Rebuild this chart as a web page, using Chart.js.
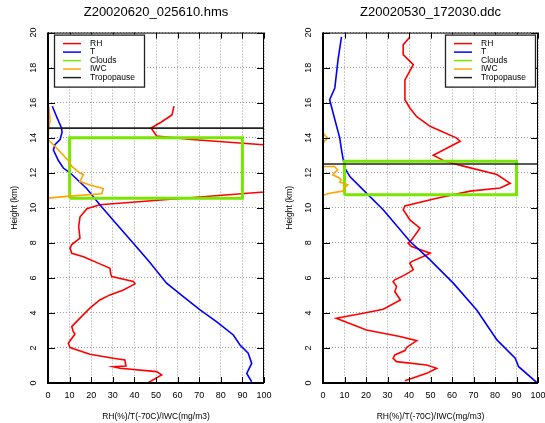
<!DOCTYPE html>
<html>
<head>
<meta charset="utf-8">
<script src="https://cdn.jsdelivr.net/npm/chart.js@4.4.0/dist/chart.umd.min.js"></script>
<style>
  body { margin: 0; background: #fff; width: 545px; height: 423px; overflow: hidden; position: relative; }
  canvas { position: absolute; top: 0; }
</style>
</head>
<body>
<canvas id="left" width="272" height="423" style="left:0"></canvas>
<canvas id="right" width="270" height="423" style="left:275px"></canvas>
<script>
// axis settings
const xTicks = [0, 10, 20, 30, 40, 50, 60, 70, 80, 90, 100];
const yTicks = [0, 2, 4, 6, 8, 10, 12, 14, 16, 18, 20];
const seriesNames = ['RH', 'T', 'Clouds', 'IWC', 'Tropopause'];

// ---- left sounding: Z20020620_025610.hms ----
const rhLeft   = [58.3, 57.4, 52.5, 47.7, 50.3, 66.5, 99.7, 112, 118, 112, 100, 24, 18, 14.8, 14.2, 14.8, 11, 10.2, 11, 16.4, 24, 28.7, 29, 29.5, 39.5, 40.3, 34.9, 28.7, 24, 19.4, 14.8, 11, 11.7, 12.5, 9.4, 10.2, 19.4, 30.2, 35.6, 36.1, 30.2, 33.3, 50.3, 52.6, 46.4];
const rhLeftKm = [15.8, 15.3, 14.9, 14.55, 14.1, 13.9, 13.6, 13.45, 12.5, 11.2, 10.9, 10.17, 9.95, 9.47, 8.93, 8.27, 7.9, 7.7, 7.4, 7.2, 6.8, 6.55, 6.25, 6.07, 5.8, 5.66, 5.31, 5.03, 4.74, 4.27, 3.7, 3.22, 2.93, 2.8, 2.27, 2.02, 1.64, 1.41, 1.31, 0.97, 0.93, 0.84, 0.65, 0.46, 0.02];
const tLeft    = [2.0, 4, 6.3, 6.5, 5.6, 3.2, 2.5, 4.8, 7.1, 10.2, 17.9, 24, 31.5, 39.5, 46.8, 54.9, 62.5, 70.4, 78, 85.8, 88.9, 92.7, 94.3, 92, 94.3];
const tLeftKm  = [15.8, 15.2, 14.55, 14.3, 13.9, 13.6, 13.3, 12.7, 12.27, 12.0, 11.1, 10.17, 9.1, 7.98, 6.93, 5.7, 4.95, 4.17, 3.5, 2.74, 2.17, 1.7, 1.12, 0.55, 0.07];
const iwcLeft   = [0.3, 1, 0.3, 0, 0, 2.5, 6.3, 9.4, 11, 14.8, 16.4, 14.8, 19.4, 25.6, 24.9, 8.6, 0, 0];
const iwcLeftKm = [15.8, 15.0, 14.5, 14.2, 13.9, 13.6, 13.1, 12.7, 12.36, 11.98, 11.9, 11.5, 11.3, 11.1, 10.8, 10.65, 10.55, 0];
const cloudLeft = [10.55, 14.0];   // base, top (km)
const tropoLeft = 14.55;

// ---- right sounding: Z20020530_172030.ddc ----
const rhRight   = [40.4, 37.3, 37.3, 42, 41.2, 38.1, 38.1, 40.4, 43.6, 49.8, 62.2, 63.8, 51.3, 56.8, 65.3, 80.9, 87.1, 82.4, 68.4, 52.9, 38.1, 37.3, 38.9, 40.4, 45.1, 41.2, 39.6, 41.2, 49.8, 48.2, 41.2, 40.4, 42, 38.1, 33.4, 32.6, 34.2, 33.4, 36, 28, 18.7, 6.2, 20.2, 35.8, 43.6, 38.9, 38.1, 33.4, 32.6, 34.2, 48.2, 52.9, 48.2, 38.1];
const rhRightKm = [19.75, 19.3, 18.74, 18.17, 17.98, 17.3, 16.17, 15.7, 15.2, 14.65, 13.98, 13.8, 13.0, 12.65, 12.38, 11.9, 11.4, 11.13, 10.95, 10.55, 10.11, 9.89, 9.6, 9.31, 8.84, 8.17, 7.98, 7.79, 7.41, 7.31, 6.93, 6.84, 6.46, 6.17, 5.89, 5.79, 5.5, 5.22, 4.74, 4.21, 3.98, 3.7, 3.03, 2.65, 2.42, 2.03, 1.85, 1.6, 1.41, 1.22, 1.03, 0.84, 0.55, 0.13];
const tRight    = [8.6, 7, 5.5, 3.1, 4.7, 7.8, 8.6, 10.1, 12.5, 20.2, 28, 40.4, 49.8, 60.6, 71.5, 80.9, 89.4, 91, 99.5];
const tRightKm  = [19.75, 18.46, 16.84, 16.17, 15.41, 13.98, 13.31, 12.27, 11.79, 10.84, 9.89, 8.09, 7.03, 5.7, 4.17, 2.46, 1.41, 0.93, 0.02];
const iwcRight   = [0, 0, 0.6, 2.2, 0.6, 0, 0, 0.6, 5.3, 6.8, 4.5, 7.6, 8.4, 7.8, 11.5, 10, 9.2, 3.7, 0.6, 0, 0];
const iwcRightKm = [19.75, 14.3, 14.17, 13.98, 13.79, 13.65, 12.4, 12.36, 12.36, 12.17, 11.89, 11.7, 11.6, 11.47, 11.31, 11.13, 10.95, 10.84, 10.74, 10.7, 0];
const cloudRight = [10.74, 12.65];
const tropoRight = 12.5;

const cloudX = [10, 90];

Chart.defaults.font.family = '"Liberation Sans", Arial, sans-serif';
Chart.defaults.color = '#000';

function pts(xs, hs) {
    return xs.map((v, i) => ({ x: v, y: hs[i] }));
}

// gnuplot style box: inward tick marks, frame, legend box inside plot
const gnuFrame = {
    id: 'gnuFrame',
    afterDatasetsDraw(chart, args, opts) {
        const { ctx, chartArea: a, scales: { x, y } } = chart;
        ctx.save();
        ctx.strokeStyle = '#000';
        ctx.lineWidth = 1;
        ctx.beginPath();
        x.ticks.forEach(t => {
            const px = Math.round(x.getPixelForValue(t.value)) + 0.5;
            ctx.moveTo(px, a.bottom); ctx.lineTo(px, a.bottom - 6);
            ctx.moveTo(px, a.top); ctx.lineTo(px, a.top + 6);
        });
        y.ticks.forEach(t => {
            const py = Math.round(y.getPixelForValue(t.value)) + 0.5;
            ctx.moveTo(a.left, py); ctx.lineTo(a.left + 7, py);
            ctx.moveTo(a.right, py); ctx.lineTo(a.right - 7, py);
        });
        ctx.stroke();
        ctx.strokeRect(a.left + 0.5, a.top + 0.5, a.width - 1, a.height - 1);
        ctx.lineWidth = 2;
        ctx.beginPath();
        ctx.moveTo(a.left, a.top); ctx.lineTo(a.left, a.bottom);
        ctx.lineTo(a.right, a.bottom);
        ctx.stroke();

        // legend
        const w = 90, h = 52;
        const bx = opts.side === 'left' ? a.left + 6 : a.right - 3 - w;
        const by = a.top + 2;
        ctx.fillStyle = '#fff';
        ctx.fillRect(bx, by, w, h);
        ctx.lineWidth = 1.3;
        ctx.strokeStyle = '#222';
        ctx.strokeRect(bx + 0.5, by + 0.5, w, h);
        ctx.font = '8.5px "Liberation Sans", Arial, sans-serif';
        ctx.textBaseline = 'middle';
        ctx.textAlign = 'left';
        chart.data.datasets.forEach((ds, i) => {
            const ry = by + 9 + i * 8.5;
            ctx.strokeStyle = ds.borderColor;
            ctx.lineWidth = 1.5;
            ctx.beginPath();
            ctx.moveTo(bx + 9, ry); ctx.lineTo(bx + 27, ry);
            ctx.stroke();
            ctx.fillStyle = '#000';
            ctx.fillText(ds.label, bx + 36, ry);
        });
        ctx.restore();
    }
};

function makeProfile(id, title, rh, rhKm, t, tKm, iwc, iwcKm, cloud, tropo, side, padRight) {
    const ctx = document.getElementById(id).getContext('2d');
    return new Chart(ctx, {
        type: 'scatter',
        data: {
            datasets: [
                { label: seriesNames[0], data: pts(rh, rhKm), borderColor: '#ff0000', borderWidth: 1.6, order: 5 },
                { label: seriesNames[1], data: pts(t, tKm), borderColor: '#0000ff', borderWidth: 1.6, order: 4 },
                { label: seriesNames[2], data: pts([cloudX[0], cloudX[1], cloudX[1], cloudX[0], cloudX[0]], [cloud[0], cloud[0], cloud[1], cloud[1], cloud[0]]), borderColor: '#77e600', borderWidth: 3, order: 3 },
                { label: seriesNames[3], data: pts(iwc, iwcKm), borderColor: '#ffa500', borderWidth: 1.6, order: 2 },
                { label: seriesNames[4], data: pts([xTicks[0], xTicks[xTicks.length - 1]], [tropo, tropo]), borderColor: '#222222', borderWidth: 1.6, order: 1 }
            ]
        },
        options: {
            responsive: false,
            animation: false,
            showLine: true,
            elements: { point: { radius: 0 }, line: { tension: 0, fill: false } },
            layout: { padding: { left: 0, right: padRight, top: 0, bottom: 0 } },
            plugins: {
                legend: { display: false },
                tooltip: { enabled: false },
                title: {
                    display: true,
                    text: title,
                    fullSize: false,
                    font: { size: 13, weight: 'normal' },
                    padding: { top: 5, bottom: 12 }
                },
                gnuFrame: { side: side }
            },
            scales: {
                x: {
                    type: 'linear',
                    min: xTicks[0],
                    max: xTicks[xTicks.length - 1],
                    afterBuildTicks: s => { s.ticks = xTicks.map(v => ({ value: v })); },
                    ticks: { font: { size: 9 }, padding: 7.5, maxRotation: 0 },
                    grid: { color: '#9a9a9a', drawTicks: false, lineWidth: 1 },
                    border: { display: false, dash: [1, 2] },
                    title: { display: true, text: 'RH(%)/T(-70C)/IWC(mg/m3)', font: { size: 8.5 }, padding: { top: 0, bottom: 1 } },
                    afterFit: s => { s.height = 40; s.paddingLeft = 0; s.paddingRight = 0; }
                },
                y: {
                    type: 'linear',
                    min: yTicks[0],
                    max: yTicks[yTicks.length - 1],
                    afterBuildTicks: s => { s.ticks = yTicks.map(v => ({ value: v })); },
                    ticks: { font: { size: 9 }, padding: 9, minRotation: 90, maxRotation: 90, crossAlign: 'center' },
                    grid: { color: '#9a9a9a', drawTicks: false, lineWidth: 1 },
                    border: { display: false, dash: [1, 2] },
                    title: { display: true, text: 'Height (km)', font: { size: 8.5 }, padding: { top: 10, bottom: 0 } },
                    afterFit: s => { s.width = 48; s.paddingTop = 0; s.paddingBottom = 0; }
                }
            }
        },
        plugins: [gnuFrame]
    });
}

makeProfile('left', 'Z20020620_025610.hms', rhLeft, rhLeftKm, tLeft, tLeftKm, iwcLeft, iwcLeftKm, cloudLeft, tropoLeft, 'left', 8);
makeProfile('right', 'Z20020530_172030.ddc', rhRight, rhRightKm, tRight, tRightKm, iwcRight, iwcRightKm, cloudRight, tropoRight, 'right', 7);
</script>
</body>
</html>
